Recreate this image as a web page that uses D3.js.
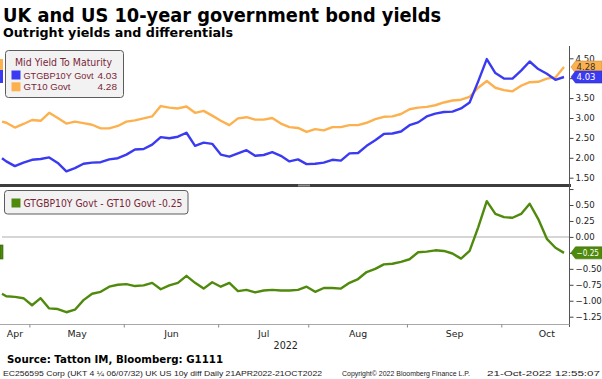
<!DOCTYPE html>
<html>
<head>
<meta charset="utf-8">
<script src="https://cdn.jsdelivr.net/npm/d3@7"></script>
<style>
  body { margin: 0; background: #fff; }
  svg { display: block; }
  text { font-family: "DejaVu Sans", Verdana, sans-serif; }
  .narrow { font-family: "Liberation Sans", Arial, sans-serif; }
</style>
</head>
<body>
<div id="chart"></div>
<script>
// sampled trading days (every other session)
const sampleDates = [
  "2022-04-21","2022-04-22","2022-04-26","2022-04-28",
  "2022-05-02","2022-05-04","2022-05-06","2022-05-10","2022-05-12","2022-05-16","2022-05-18","2022-05-20","2022-05-24","2022-05-26","2022-05-30",
  "2022-06-01","2022-06-03","2022-06-07","2022-06-09","2022-06-13","2022-06-15","2022-06-17","2022-06-21","2022-06-23","2022-06-27","2022-06-29",
  "2022-07-01","2022-07-05","2022-07-07","2022-07-11","2022-07-13","2022-07-15","2022-07-19","2022-07-21","2022-07-25","2022-07-27","2022-07-29",
  "2022-08-02","2022-08-04","2022-08-08","2022-08-10","2022-08-12","2022-08-16","2022-08-18","2022-08-22","2022-08-24","2022-08-26","2022-08-30",
  "2022-09-01","2022-09-05","2022-09-07","2022-09-09","2022-09-13","2022-09-15","2022-09-19","2022-09-21","2022-09-23","2022-09-27","2022-09-29",
  "2022-10-03","2022-10-05","2022-10-07","2022-10-11","2022-10-13","2022-10-17","2022-10-19","2022-10-21"
];

// GTGBP10Y Govt (UK 10y)
const gbpYield = [
  1.99,1.91,1.79,1.88,
  1.95,1.97,2.01,1.87,1.66,1.74,1.85,1.88,1.89,1.96,1.99,
  2.08,2.21,2.22,2.33,2.52,2.49,2.53,2.63,2.30,2.38,2.35,
  2.08,2.03,2.11,2.19,2.05,2.07,2.14,2.05,1.91,1.96,1.84,
  1.85,1.88,1.95,1.93,2.11,2.12,2.30,2.44,2.60,2.61,2.66,
  2.82,2.89,3.04,3.11,3.15,3.16,3.24,3.39,3.92,4.48,4.13,
  3.99,3.99,4.19,4.42,4.23,4.11,3.96,4.03
];

// GT10 Govt (US 10y)
const usYield = [
  2.91,2.88,2.76,2.85,
  2.95,2.93,3.13,3.00,2.86,2.91,2.87,2.83,2.74,2.74,2.80,
  2.91,2.94,2.99,3.04,3.30,3.26,3.24,3.29,3.13,3.18,3.06,
  2.93,2.82,2.99,3.02,2.96,2.96,3.00,2.86,2.77,2.75,2.65,
  2.72,2.69,2.77,2.77,2.82,2.82,2.88,2.97,3.03,3.04,3.10,
  3.22,3.26,3.28,3.32,3.39,3.44,3.46,3.53,3.76,3.93,3.76,
  3.70,3.67,3.81,3.90,3.91,3.99,4.02,4.28
];

// GTGBP10Y Govt - GT10 Govt
const yieldDiff = [
  -0.89,-0.93,-0.94,-0.96,
  -1.07,-0.96,-1.12,-1.13,-1.18,-1.14,-0.99,-0.89,-0.86,-0.78,-0.75,
  -0.74,-0.77,-0.76,-0.72,-0.82,-0.76,-0.72,-0.61,-0.72,-0.81,-0.71,
  -0.78,-0.72,-0.85,-0.83,-0.87,-0.84,-0.83,-0.84,-0.84,-0.83,-0.78,
  -0.86,-0.80,-0.80,-0.81,-0.72,-0.66,-0.55,-0.50,-0.43,-0.42,-0.39,
  -0.35,-0.24,-0.23,-0.21,-0.22,-0.26,-0.34,-0.22,0.15,0.56,0.36,
  0.31,0.30,0.36,0.52,0.28,-0.03,-0.17,-0.25
];

const lastValues = { gbp: 4.03, us: 4.28, diff: -0.25 };
const monthNames = ["Apr","May","Jun","Jul","Aug","Sep","Oct"];
const yearLabel = "2022";
const topTicks = [1.5, 2, 2.5, 3, 3.5, 4, 4.5];
const bottomTicks = [-1.25, -1, -0.75, -0.5, -0.25, 0, 0.25, 0.5, 0.75];
// tick labels hidden behind the last-value tags
const hiddenTop = [4];
const hiddenBottom = [-0.25, 0.75];

const W = 602, H = 379;
const blue = "#3a3af2", orange = "#fdb14e", green = "#4f8a0c", maroon = "#7a2638";

const svg = d3.select("#chart").append("svg")
  .attr("width", W).attr("height", H);

svg.append("rect").attr("width", W).attr("height", H).attr("fill", "#fff");

// business-day calendar, Apr 21 .. Oct 31
const fmt = d3.timeFormat("%Y-%m-%d");
const calendar = d3.timeDay.range(new Date(2022, 3, 21), new Date(2022, 10, 1))
  .filter(d => d.getDay() % 6 !== 0);
const dayIndex = new Map(calendar.map((d, i) => [fmt(d), i]));
const lastIdx = dayIndex.get("2022-10-21");

const axisX = 569.5;
const x = d3.scaleLinear().domain([0, lastIdx]).range([2, 564]);
const yTop = d3.scaleLinear().domain([1.5, 4.5]).range([177.7, 58.3]);
const yBot = d3.scaleLinear().domain([-1.25, 0.5]).range([316.7, 205]);

function fit(sel, w) {
  sel.attr("textLength", w).attr("lengthAdjust", "spacingAndGlyphs");
  return sel;
}

// titles
fit(svg.append("text").attr("x", 3).attr("y", 21.5)
  .attr("font-size", 19).attr("font-weight", "bold").attr("fill", "#000")
  .text("UK and US 10-year government bond yields"), 438);
fit(svg.append("text").attr("x", 3).attr("y", 36.5)
  .attr("font-size", 13).attr("font-weight", "bold").attr("fill", "#000")
  .text("Outright yields and differentials"), 230);

// zero grid line in lower panel
svg.append("line")
  .attr("x1", 2).attr("x2", axisX).attr("y1", yBot(0)).attr("y2", yBot(0))
  .attr("stroke", "#c8c8c8").attr("stroke-width", 1.5);

// lines
const points = vals => sampleDates.map((d, i) => [dayIndex.get(d), vals[i]]);
const lineTop = d3.line().x(d => x(d[0])).y(d => yTop(d[1]));
const lineBot = d3.line().x(d => x(d[0])).y(d => yBot(d[1]));

svg.append("path").datum(points(usYield)).attr("d", lineTop)
  .attr("fill", "none").attr("stroke", orange).attr("stroke-width", 2.4)
  .attr("stroke-linejoin", "round");
svg.append("path").datum(points(gbpYield)).attr("d", lineTop)
  .attr("fill", "none").attr("stroke", blue).attr("stroke-width", 2.4)
  .attr("stroke-linejoin", "round");
svg.append("path").datum(points(yieldDiff)).attr("d", lineBot)
  .attr("fill", "none").attr("stroke", green).attr("stroke-width", 2.4)
  .attr("stroke-linejoin", "round");

// panel separator
svg.append("rect").attr("x", 0).attr("y", 184).attr("width", 571).attr("height", 3)
  .attr("fill", "#3d3d3d");
svg.append("rect").attr("x", 298).attr("y", 184.5).attr("width", 12).attr("height", 2)
  .attr("fill", "#8c8c8c");

// right axes
const f2 = d3.format(".2f");
const gTop = svg.append("g").attr("transform", `translate(${axisX},0)`)
  .call(d3.axisRight(yTop).tickValues(topTicks)
    .tickFormat(d => hiddenTop.includes(d) ? "" : f2(d)).tickSize(4).tickPadding(2));
const gBot = svg.append("g").attr("transform", `translate(${axisX},0)`)
  .call(d3.axisRight(yBot).tickValues(bottomTicks)
    .tickFormat(d => hiddenBottom.includes(d) ? "" : f2(d)).tickSize(4).tickPadding(2));
[gTop, gBot].forEach(g => {
  g.select(".domain").remove();
  g.selectAll(".tick line").attr("stroke", "#444");
  g.selectAll(".tick text").attr("font-size", 8.6).attr("fill", "#222")
    .attr("font-family", "DejaVu Sans, sans-serif");
});
svg.append("line").attr("x1", axisX).attr("x2", axisX).attr("y1", 46).attr("y2", 327)
  .attr("stroke", "#555");

// bottom time axis
svg.append("line").attr("x1", 0).attr("x2", axisX).attr("y1", 324.5).attr("y2", 324.5)
  .attr("stroke", "#a8a8a8");
const monthStarts = monthNames.map((m, k) => {
  const idx = calendar.findIndex(d => d.getMonth() === 3 + k);
  const endIdx = calendar.length - 1 - [...calendar].reverse().findIndex(d => d.getMonth() === 3 + k);
  return { name: m, start: idx, end: endIdx };
});
monthStarts.forEach((m, k) => {
  const x0 = x(m.start - 0.5), x1 = x(m.end + 0.5);
  if (k > 0) {
    svg.append("line").attr("x1", x0).attr("x2", x0).attr("y1", 324.5).attr("y2", 327.5)
      .attr("stroke", "#888");
  }
  svg.append("text").attr("x", (Math.max(x0, 0) + x1) / 2).attr("y", 337)
    .attr("text-anchor", "middle").attr("font-size", 9.4).attr("fill", "#222")
    .text(m.name);
});
svg.append("text").attr("x", axisX / 2 + 1).attr("y", 348.5)
  .attr("text-anchor", "middle").attr("font-size", 9.6).attr("fill", "#222")
  .text(yearLabel);

// left-edge markers
svg.append("rect").attr("x", 0).attr("y", 59).attr("width", 3).attr("height", 11).attr("fill", orange);
svg.append("rect").attr("x", 0).attr("y", 70).attr("width", 3).attr("height", 13).attr("fill", blue);
svg.append("rect").attr("x", 0).attr("y", 245).attr("width", 3).attr("height", 14)
  .attr("fill", green).attr("stroke", "#2f5a05").attr("stroke-width", 0.6);

// value tags on the right axis
function tag(cy, fill, textFill, label, w) {
  const h = 6;
  svg.append("path")
    .attr("d", `M${axisX + 1.5},${cy} L${axisX + 6},${cy - h} L${W},${cy - h} L${W},${cy + h} L${axisX + 6},${cy + h} Z`)
    .attr("fill", fill).attr("stroke", d3.color(fill).darker(0.6)).attr("stroke-width", 0.6);
  fit(svg.append("text").attr("x", axisX + 7).attr("y", cy + 3.3)
    .attr("font-size", 8.6).attr("fill", textFill).text(label), w);
}
tag(yTop(lastValues.us), orange, "#333", f2(lastValues.us), 19);
tag(yTop(lastValues.gbp), blue, "#fff", f2(lastValues.gbp), 19);
tag(yBot(lastValues.diff), green, "#fff", f2(lastValues.diff), 22.5);

// legends
const lg = svg.append("g");
lg.append("rect").attr("x", 5.5).attr("y", 50.5).attr("width", 118).attr("height", 47).attr("rx", 3)
  .attr("fill", "#f2f2f2").attr("stroke", "#5c5c5c");
fit(lg.append("text").attr("x", 15).attr("y", 66).attr("font-size", 10.2).attr("fill", maroon)
  .text("Mid Yield To Maturity"), 97);
const rows = [
  { name: "GTGBP10Y Govt", value: lastValues.gbp, color: blue, w: 70 },
  { name: "GT10 Govt", value: lastValues.us, color: orange, w: 47 }
];
rows.forEach((r, i) => {
  const yy = 78.5 + i * 11.8;
  lg.append("rect").attr("x", 11.5).attr("y", yy - 8).attr("width", 9).attr("height", 9).attr("fill", r.color);
  fit(lg.append("text").attr("class", "narrow").attr("x", 23.5).attr("y", yy)
    .attr("font-size", 9.2).attr("fill", maroon).text(r.name), r.w);
  fit(lg.append("text").attr("class", "narrow").attr("x", 97.5).attr("y", yy)
    .attr("font-size", 9.2).attr("fill", maroon).text(f2(r.value)), 19.5);
});

const lg2 = svg.append("g");
lg2.append("rect").attr("x", 4.5).attr("y", 190.5).attr("width", 183.5).attr("height", 23.5).attr("rx", 3)
  .attr("fill", "#f2f2f2").attr("stroke", "#5c5c5c");
lg2.append("rect").attr("x", 11.5).attr("y", 198.5).attr("width", 9).attr("height", 9).attr("fill", green);
fit(lg2.append("text").attr("x", 23.5).attr("y", 206.8).attr("font-size", 10.2).attr("fill", maroon)
  .text("GTGBP10Y Govt - GT10 Govt -0.25"), 159);

// source & footer
fit(svg.append("text").attr("x", 7).attr("y", 362.5)
  .attr("font-size", 10.6).attr("font-weight", "bold").attr("fill", "#000")
  .text("Source: Tatton IM, Bloomberg: G1111"), 216);
fit(svg.append("text").attr("class", "narrow").attr("x", 3).attr("y", 375.5).attr("font-size", 7.6).attr("fill", "#222")
  .text("EC256595 Corp (UKT 4 \u00bc 06/07/32) UK US 10y diff  Daily 21APR2022-21OCT2022"), 319);
fit(svg.append("text").attr("class", "narrow").attr("x", 342).attr("y", 375.5).attr("font-size", 7.6).attr("fill", "#222")
  .text("Copyright\u00a9 2022 Bloomberg Finance L.P."), 128);
fit(svg.append("text").attr("class", "narrow").attr("x", 487).attr("y", 375.5).attr("font-size", 7.6).attr("fill", "#222")
  .text("21-Oct-2022 12:55:07"), 113);
</script>
</body>
</html>
